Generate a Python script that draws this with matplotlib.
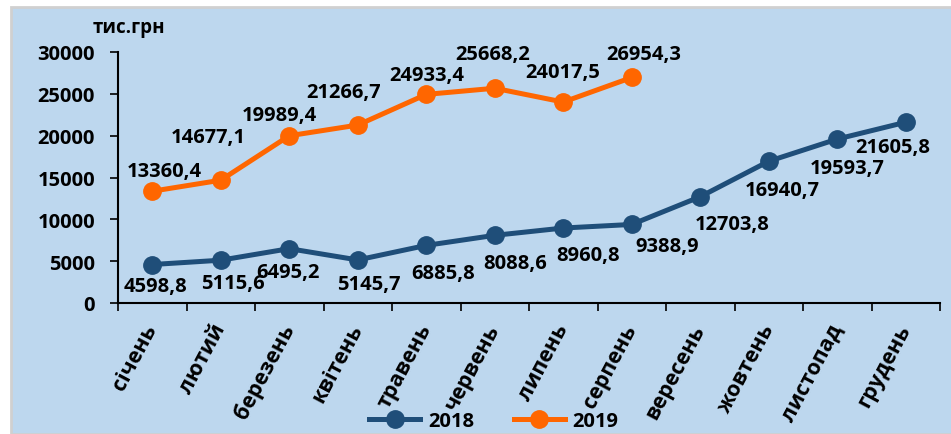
import numpy as np
import matplotlib.pyplot as plt
from matplotlib.patches import Rectangle

plt.rcParams['font.family'] = ['Open Sans', 'DejaVu Sans']

# дані
months = ['січень', 'лютий', 'березень', 'квітень', 'травень', 'червень',
          'липень', 'серпень', 'вересень', 'жовтень', 'листопад', 'грудень']
v2018 = [4598.8, 5115.6, 6495.2, 5145.7, 6885.8, 8088.6, 8960.8, 9388.9,
         12703.8, 16940.7, 19593.7, 21605.8]
v2019 = [13360.4, 14677.1, 19989.4, 21266.7, 24933.4, 25668.2, 24017.5, 26954.3]

# зсуви підписів (пікселі)
off2018 = [(3, -21), (12, -23), (-1, -23), (11, -24), (17, -28), (20, -28),
           (25, -27), (35, -22), (32, -27), (14, -29), (10, -29), (-13, -25)]
off2019 = [(12, 20), (-12, 43), (-10, 21), (-14, 33), (1, 19), (-2, 34),
           (-1, 30), (12, 23)]

c18 = '#1F4E79'
c19 = '#FF6600'
fs = 14.5

fig = plt.figure(figsize=(9.51, 4.35), dpi=100)
fig.patches.append(Rectangle((11 / 951, 0), 1, 1 - 8 / 435, transform=fig.transFigure,
                             facecolor='#BDD7EE', edgecolor='#D0D0D0', lw=2, zorder=-5))
ax = fig.add_axes([118 / 951, 1 - 304 / 435, (940 - 118) / 951, (304 - 53) / 435])
ax.set_facecolor('none')

x18 = np.arange(len(v2018))
x19 = np.arange(len(v2019))
ax.plot(x18, v2018, color=c18, lw=3.6, marker='o', ms=12.5, label='2018', zorder=3)
ax.plot(x19, v2019, color=c19, lw=3.6, marker='o', ms=12.5, label='2019', zorder=3)

for xi, yi, o in zip(x18, v2018, off2018):
    ax.annotate(f'{yi:.1f}'.replace('.', ','), (xi, yi), xytext=o,
                textcoords='offset pixels', ha='center', va='center',
                fontsize=fs, fontweight='bold')
for xi, yi, o in zip(x19, v2019, off2019):
    ax.annotate(f'{yi:.1f}'.replace('.', ','), (xi, yi), xytext=o,
                textcoords='offset pixels', ha='center', va='center',
                fontsize=fs, fontweight='bold')

ax.set_xlim(-0.5, 11.5)
ax.set_ylim(0, 30000)
ax.set_yticks(np.arange(0, 30001, 5000))
ax.set_xticks(x18)
ax.set_xticklabels(months, rotation=62, ha='right', va='center', rotation_mode='anchor',
                   fontsize=15.5, fontweight='bold')
ax.set_xticks(np.arange(-0.5, 12, 1), minor=True)
ax.tick_params(axis='x', which='major', length=0, pad=16)
ax.tick_params(axis='x', which='minor', length=5.5, width=1.2)
ax.tick_params(axis='y', length=5.5, width=1.2, pad=11)
for t in ax.get_yticklabels():
    t.set_fontsize(fs)
    t.set_fontweight('bold')
for s in ['top', 'right']:
    ax.spines[s].set_visible(False)
ax.spines['left'].set_linewidth(1.5)
ax.spines['bottom'].set_linewidth(1.5)

fig.text(129 / 951, 1 - 28 / 435, 'тис.грн', ha='center', va='center',
         fontsize=fs - 1, fontweight='bold')

fig.legend(loc='center', bbox_to_anchor=(494 / 951, 1 - 422 / 435), ncol=2, frameon=False,
           prop={'size': fs, 'weight': 'bold'}, handlelength=2.5, columnspacing=2,
           handletextpad=0.4)

fig.savefig('out.png', dpi=100)
